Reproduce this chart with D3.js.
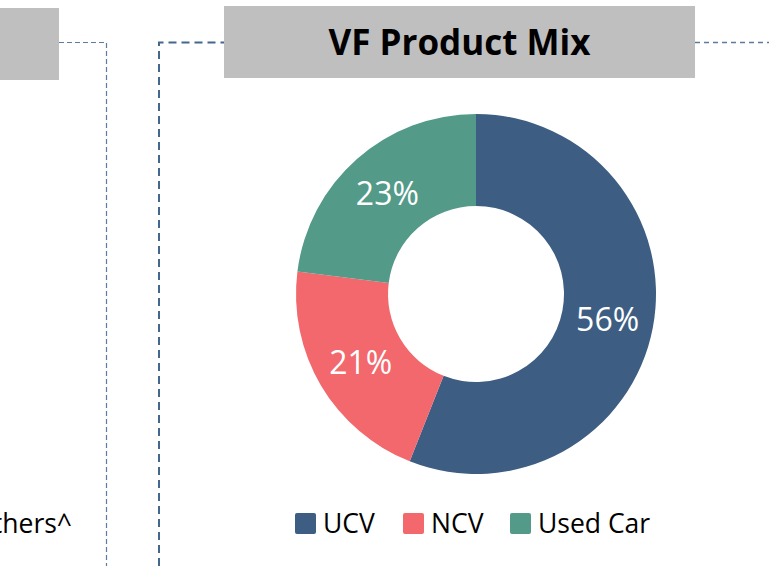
<!DOCTYPE html>
<html><head><meta charset="utf-8">
<script src="https://cdn.jsdelivr.net/npm/d3@7"></script>
<style>html,body{margin:0;padding:0;background:#fff;}svg{display:block;}</style>
</head><body>
<svg id="c" width="769" height="566"></svg>
<script>
const title = "VF Product Mix";
const categories = ["UCV", "NCV", "Used Car"];
const values = [56, 21, 23];
const colors = ["#3D5E82", "#F2686D", "#539A88"];
const leftLegendText = "Others^";

const svg = d3.select("#c");
const font = "'Open Sans', sans-serif";

// left panel remnants
svg.append("rect").attr("x", 0).attr("y", 8).attr("width", 59).attr("height", 72).attr("fill", "#BFBFBF");
svg.append("path").attr("d", "M59,42.5H106.5V566")
  .attr("fill", "none").attr("stroke", "#5A7CA0").attr("stroke-width", 1.2).attr("stroke-dasharray", "5,3");
svg.append("text").attr("x", 72).attr("y", 533).attr("text-anchor", "end")
  .attr("font-family", font).attr("font-size", 26.5).attr("fill", "#000").text(leftLegendText);

// right panel frame
svg.append("path").attr("d", "M159,566V42.5H224")
  .attr("fill", "none").attr("stroke", "#44678E").attr("stroke-width", 2).attr("stroke-dasharray", "8,5");
svg.append("path").attr("d", "M695,42.5H769")
  .attr("fill", "none").attr("stroke", "#5A7CA0").attr("stroke-width", 1.3).attr("stroke-dasharray", "5,4");
svg.append("rect").attr("x", 224).attr("y", 6).attr("width", 471).attr("height", 72).attr("fill", "#BFBFBF");
svg.append("text").attr("x", 459.5).attr("y", 55).attr("text-anchor", "middle")
  .attr("font-family", font).attr("font-weight", "bold").attr("font-size", 35).attr("fill", "#000").text(title);

// donut
const cx = 476, cy = 294, R = 180, r = 88;
const pie = d3.pie().sort(null).value(d => d.v);
const arcs = pie(categories.map((c, i) => ({c, v: values[i], col: colors[i]})));
const arc = d3.arc().innerRadius(r).outerRadius(R);
const g = svg.append("g").attr("transform", `translate(${cx},${cy})`);
g.selectAll("path").data(arcs).join("path").attr("d", arc).attr("fill", d => d.data.col);
g.selectAll("text").data(arcs).join("text")
  .attr("transform", d => `translate(${arc.centroid(d)})`)
  .attr("text-anchor", "middle").attr("dy", "0.36em")
  .attr("font-family", font).attr("font-size", 32).attr("fill", "#fff")
  .text(d => d.data.v + "%");

// legend
const lx = [295, 403, 510];
const lg = svg.append("g");
categories.forEach((c, i) => {
  lg.append("rect").attr("x", lx[i]).attr("y", 513).attr("width", 21).attr("height", 21).attr("rx", 2).attr("fill", colors[i]);
  lg.append("text").attr("x", lx[i] + 28).attr("y", 533).attr("font-family", font).attr("font-size", 26.5).attr("fill", "#000").text(c);
});
</script>
</body></html>
